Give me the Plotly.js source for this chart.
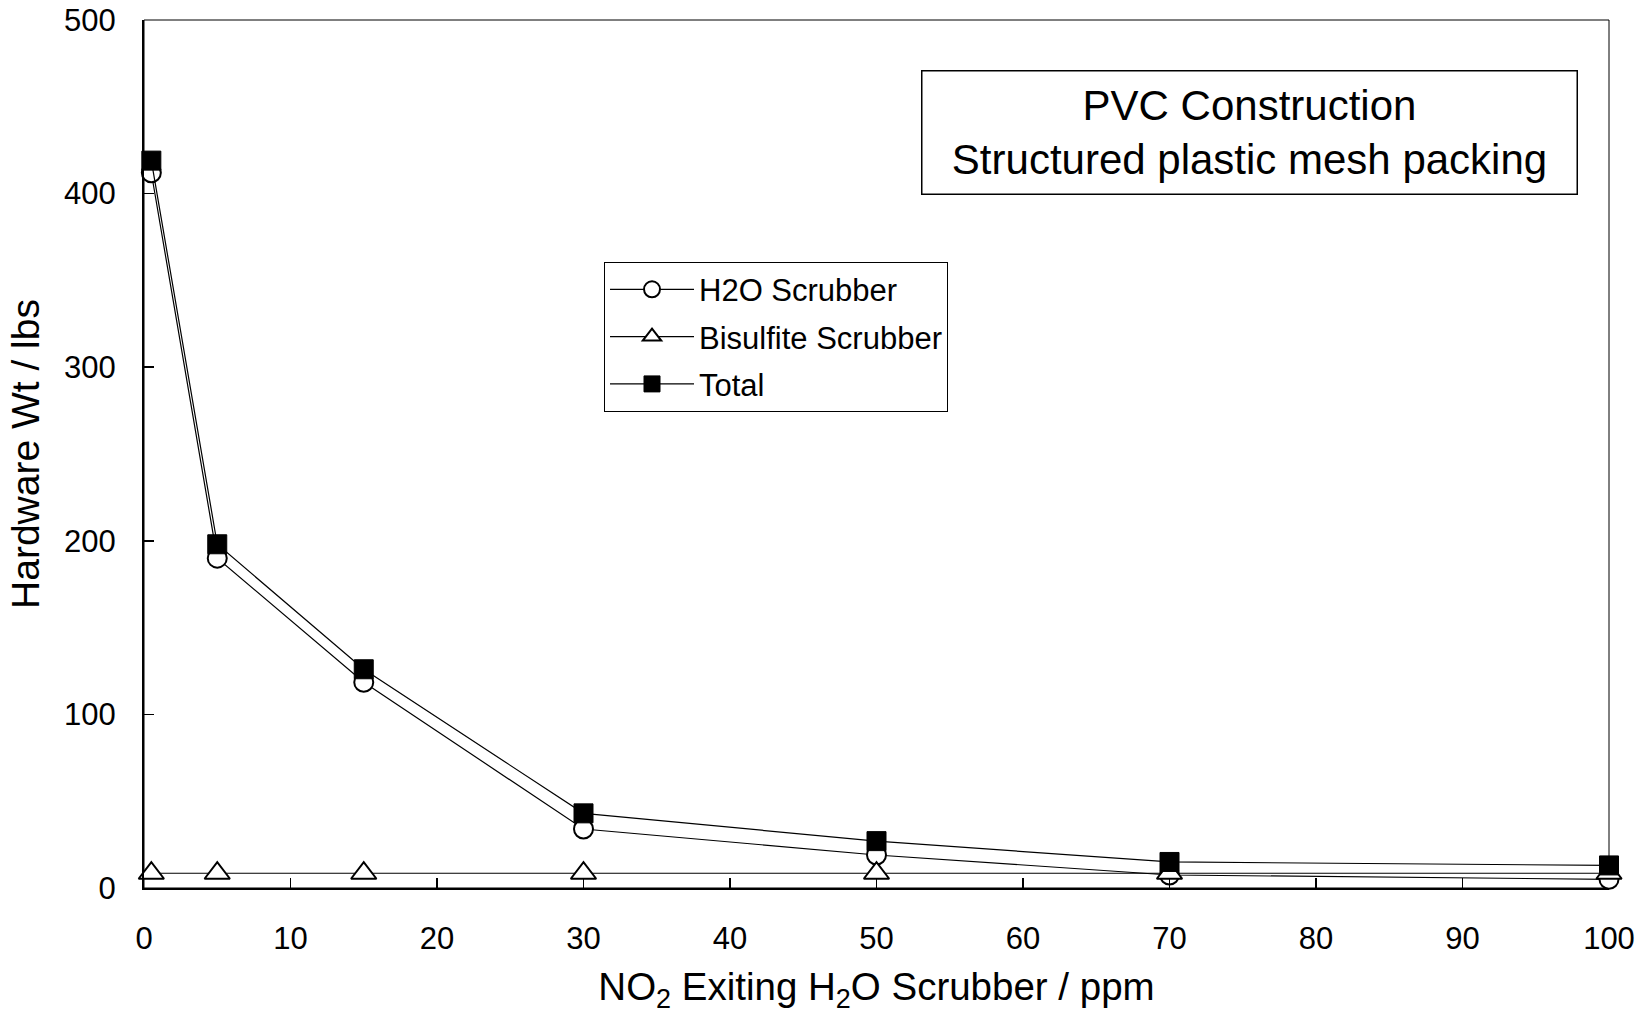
<!DOCTYPE html>
<html>
<head>
<meta charset="utf-8">
<script src="https://cdn.plot.ly/plotly-3.0.1.min.js"></script>
<style>
  html, body { margin: 0; padding: 0; background: #fff; }
  #chart { width: 1641px; height: 1014px; }
</style>
</head>
<body>
<div id="chart"></div>
<script>
// NO2 exiting H2O scrubber (ppm)
const no2Ppm = [0.5, 5, 15, 30, 50, 70, 100];
// Hardware weight (lbs)
const h2oScrubber = [412, 190, 118.5, 34, 19, 7.5, 5];
const bisulfiteScrubber = [8.5, 8.5, 8.5, 8.5, 8.5, 8.5, 8.5];
const totalWt = [419, 198, 126, 43, 27, 15, 13];

const seriesNames = ["H2O Scrubber", "Bisulfite Scrubber", "Total"];
const xTicks = [0, 10, 20, 30, 40, 50, 60, 70, 80, 90, 100];
const yTicks = [0, 100, 200, 300, 400, 500];
const boxText = "PVC Construction<br>Structured plastic mesh packing";

const FONT = "Liberation Sans, Arial, sans-serif";

const lineStyle = {color: "#000", width: 1.2};

const traces = [
  {
    x: no2Ppm, y: h2oScrubber, name: seriesNames[0], type: "scatter", mode: "lines+markers",
    line: lineStyle, cliponaxis: false, legendgroup: "a",
    marker: {symbol: "circle", size: 19, color: "#fff", line: {color: "#000", width: 2}}
  },
  {
    x: no2Ppm, y: bisulfiteScrubber, name: seriesNames[1], type: "scatter", mode: "lines+markers",
    line: lineStyle, cliponaxis: false, legendgroup: "b",
    marker: {symbol: "triangle-up", size: 22, color: "#fff", line: {color: "#000", width: 2}}
  },
  {
    x: no2Ppm, y: totalWt, name: seriesNames[2], type: "scatter", mode: "lines+markers",
    line: lineStyle, cliponaxis: false, legendgroup: "c",
    marker: {symbol: "square", size: 19, color: "#000", line: {color: "#000", width: 1}}
  }
];

const layout = {
  width: 1641, height: 1014,
  paper_bgcolor: "#fff", plot_bgcolor: "#fff",
  font: {family: FONT, color: "#000", size: 31},
  margin: {l: 144, r: 32, t: 20, b: 126},
  showlegend: true,
  legend: {
    x: 0.314, y: 0.7216, xanchor: "left", yanchor: "top",
    bordercolor: "#000", borderwidth: 1, bgcolor: "#fff",
    font: {family: FONT, size: 31, color: "#000"},
    tracegroupgap: 4, traceorder: "grouped",
    itemsizing: "trace", itemwidth: 84
  },
  xaxis: {
    range: [0, 100], tickvals: xTicks, ticktext: xTicks.map(String),
    ticks: "inside", ticklen: 10, tickwidth: 1.5, tickcolor: "#000",
    showline: true, linecolor: "#000", linewidth: 2,
    showgrid: false, zeroline: false, ticklabelstandoff: 22,
    tickfont: {family: FONT, size: 31},
    title: {text: "NO<sub>2</sub> Exiting H<sub>2</sub>O Scrubber / ppm", font: {family: FONT, size: 38.5}, standoff: 35}
  },
  yaxis: {
    range: [0, 500], tickvals: yTicks, ticktext: yTicks.map(String),
    ticks: "inside", ticklen: 10, tickwidth: 1.5, tickcolor: "#000",
    showline: true, linecolor: "#000", linewidth: 2,
    showgrid: false, zeroline: false, ticklabelstandoff: 20,
    tickfont: {family: FONT, size: 31},
    title: {text: "Hardware Wt / lbs", font: {family: FONT, size: 39}, standoff: 12}
  },
  shapes: [
    {type: "rect", xref: "paper", yref: "paper", x0: 0, x1: 1, y0: 0, y1: 1,
     line: {color: "#000", width: 1}, layer: "below"}
  ],
  annotations: [
    {
      xref: "paper", yref: "paper", x: 0.7548, y: 0.8704, xanchor: "center", yanchor: "middle",
      text: boxText, showarrow: false, align: "center",
      font: {family: FONT, size: 42, color: "#000"},
      bordercolor: "#000", borderwidth: 1.5, bgcolor: "#fff",
      width: 652, height: 120, borderpad: 1
    }
  ]
};

Plotly.newPlot("chart", traces, layout, {displayModeBar: false, staticPlot: true});
</script>
</body>
</html>
